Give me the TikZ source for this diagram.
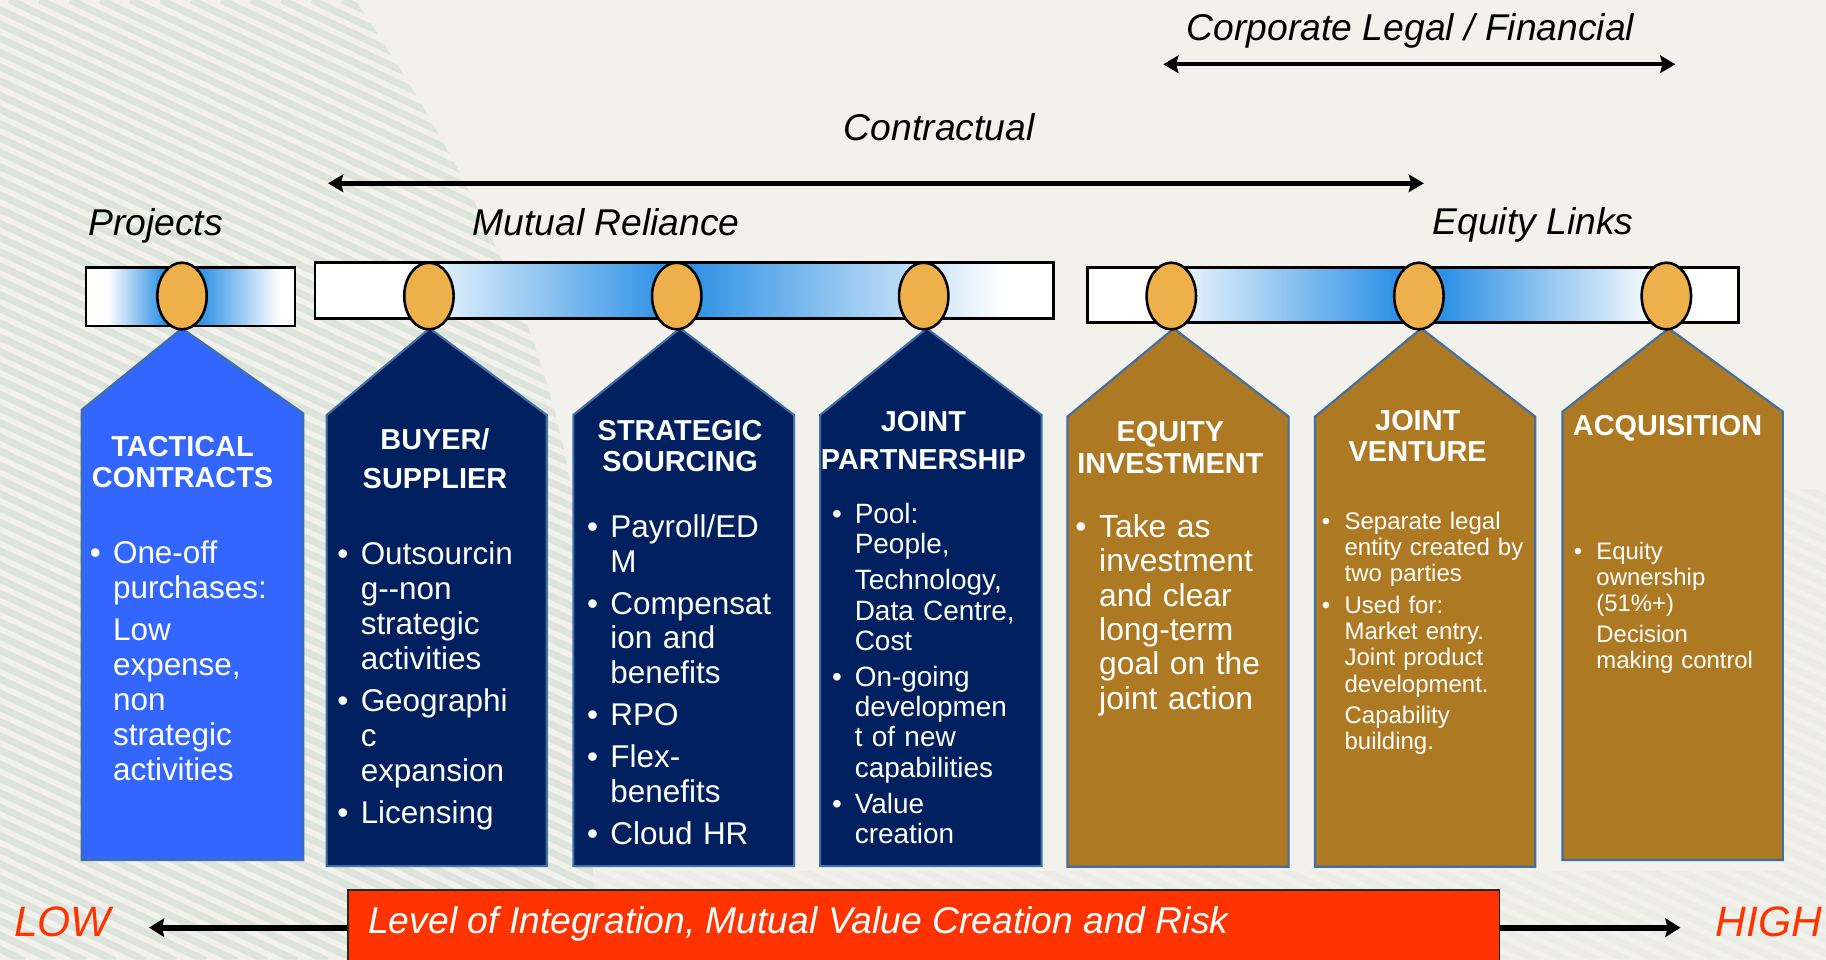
\documentclass[tikz,border=0pt]{standalone}
\usepackage{fontspec}
\setmainfont{Liberation Sans}
\usetikzlibrary{arrows.meta,shapes.geometric}

\definecolor{bgbeige}{HTML}{F3F1EC}
\definecolor{stripecol}{HTML}{DDE4DC}
\definecolor{tagblue}{HTML}{3366FF}
\definecolor{tagnavy}{HTML}{002060}
\definecolor{tagbrown}{HTML}{AE7923}
\definecolor{tagedge}{HTML}{3F6FA3}
\definecolor{knobcol}{HTML}{EEB04A}
\definecolor{barblue}{HTML}{2E91E5}
\definecolor{riskred}{HTML}{FF3300}

% bullet lists with a hanging indent
\newlength{\bulind}\setlength{\bulind}{20pt}
\newlength{\bulgap}\setlength{\bulgap}{6pt}
\newcommand{\firstbul}{\hangindent=\bulind\hangafter=1\relax\makebox[\bulind][l]{\textbullet}}
\newcommand{\nextbul}{\par\vspace{\bulgap}\noindent\firstbul}
\newcommand{\contpar}{\par\vspace{\bulgap}\noindent\hangindent=\bulind\hangafter=0\relax}

% horizontal bar: white ends, blue band between #6 and #7
\newcommand{\gradbar}[8]{%
  \fill[white] (#1,#3) rectangle (#2,#4);
  \shade[left color=white,right color=barblue] (#5,#3) rectangle (#6+0.5,#4);
  \fill[barblue] (#6,#3) rectangle (#7,#4);
  \shade[left color=barblue,right color=white] (#7-0.5,#3) rectangle (#8,#4);
  \draw[barframe] (#1,#3) rectangle (#2,#4);
}
% hanging tag: left, right, apex x, left shoulder, right shoulder, bottom, fill
\newcommand{\tagshape}[7]{%
  \filldraw[tagframe, fill=#7] (#1,#6) -- (#1,#4) -- (#3,282) -- (#2,#5) -- (#2,#6) -- cycle;
}

\tikzset{
  stripe/.style={stripecol, line width=6pt},
  barframe/.style={draw=black, line width=2.4pt},
  tagframe/.style={draw=tagedge, line width=1.8pt, line join=miter},
  knob/.style={ellipse, draw=black, line width=2.2pt, fill=knobcol,
    minimum width=42.4pt, minimum height=57.2pt, inner sep=0pt},
  toplabel/.style={font=\itshape\fontsize{32}{38}\selectfont, inner sep=0pt, anchor=base west},
  twoway/.style={line width=3.8pt,
    {Stealth[length=13pt,width=15pt,inset=2pt]}-{Stealth[length=13pt,width=15pt,inset=2pt]}},
  oneway/.style={line width=5pt, -{Stealth[length=13pt,width=16pt,inset=2pt]}},
  tagtitle/.style={text=white, font=\bfseries\fontsize{24.8}{27}\selectfont,
    text width=210pt, align=center, inner sep=0pt, anchor=base},
  tagbody/.style={text=white, inner sep=0pt, anchor=base west, text width=190pt},
  endlabel/.style={text=riskred, font=\itshape\fontsize{36.5}{40}\selectfont, inner sep=0pt, anchor=base west},
  riskbox/.style={fill=riskred, draw=black!85, line width=1.4pt, inner sep=0pt, anchor=north west},
}

\begin{document}
\begin{tikzpicture}[x=1pt,y=-1pt]
\useasboundingbox (0,0) rectangle (1568,824);

% background with diagonal stripes
\fill[bgbeige] (0,0) rectangle (1568,824);
\begin{scope}
  \clip (0,0) -- (305,0) .. controls (420,170) and (490,330) .. (500,500) -- (512,824) -- (0,824) -- cycle;
  \foreach \s in {-1760,-1734,...,720} \draw[stripe] (\s,0) -- ++(1755,825);
\end{scope}
\begin{scope}[opacity=0.35]
  \clip (500,748) rectangle (1568,824) (1532,420) rectangle (1568,824);
  \foreach \s in {-1760,-1734,...,1600} \draw[stripe] (\s,0) -- ++(1755,825);
\end{scope}

% headings and range arrows
\node[toplabel] (corp) at (1019,34.4) {Corporate Legal / Financial};
\coordinate (corpL) at (998.9,55.2);
\coordinate (corpR) at (1438.6,55.2);
\draw[twoway] (corpL) -- (corpR);

\node[toplabel] (contr) at (724.5,120.8) {Contractual};
\coordinate (contrL) at (281.7,157.4);
\coordinate (contrR) at (1222.7,157.4);
\draw[twoway] (contrL) -- (contrR);

\node[toplabel] (proj) at (75.5,201.8) {Projects};
\node[toplabel] (mutual) at (405.6,201.8) {Mutual Reliance};
\node[toplabel] (eqlinks) at (1230,201) {Equity Links};

% bars
\gradbar{73.9}{253.3}{229.6}{280}{92}{140}{172}{240}
\gradbar{270.5}{904.5}{225.3}{273.4}{345}{572}{592}{862}
\gradbar{933.5}{1492.6}{229.6}{276.8}{995}{1198}{1240}{1425}

% tags
\tagshape{70.1}{260.5}{156.3}{352}{355}{738.5}{tagblue}
\tagshape{280.5}{469.5}{369}{356.4}{356.4}{743.7}{tagnavy}
\tagshape{492.3}{681.9}{584}{356.4}{356.4}{743.7}{tagnavy}
\tagshape{704.2}{894.5}{795.8}{356.4}{356.4}{743.7}{tagnavy}
\tagshape{916.6}{1106.6}{1008}{357.8}{357.8}{744.3}{tagbrown}
\tagshape{1129.2}{1318.3}{1220.5}{357.8}{357.8}{744.3}{tagbrown}
\tagshape{1341.7}{1530.9}{1433}{353.5}{353.5}{738.5}{tagbrown}

% knobs
\node[knob] (k1) at (156.3,254.2) {};
\node[knob] (k2) at (368.3,254.2) {};
\node[knob] (k3) at (581.1,254.2) {};
\node[knob] (k4) at (793.2,254.2) {};
\node[knob] (k5) at (1005.8,254.2) {};
\node[knob] (k6) at (1218.4,254.2) {};
\node[knob] (k7) at (1430.9,254.2) {};

% tag titles
\node[tagtitle] (t1) at (156.8,392.2) {TACTICAL\\[-0.7pt]CONTRACTS};
\node[tagtitle] (t2) at (373.5,386.4) {BUYER/\\[6pt]SUPPLIER};
\node[tagtitle] (t3) at (584,377.9) {STRATEGIC\\SOURCING};
\node[tagtitle] (t4) at (792.9,370.1) {JOINT\\[5.9pt]PARTNERSHIP};
\node[tagtitle] (t5) at (1005,379.3) {EQUITY\\INVESTMENT};
\node[tagtitle] (t6) at (1217.4,369.3) {JOINT\\VENTURE};
\node[tagtitle] (t7) at (1432,373.6) {ACQUISITION};

% tag bodies
\node[tagbody, font={\fontsize{27}{30}\selectfont\setlength{\bulind}{20pt}\setlength{\bulgap}{6pt}}] (b1) at (76.9,484)
  {\firstbul One-off\newline purchases:\contpar Low\newline expense,\newline non\newline strategic\newline activities\par};
\node[tagbody, font={\fontsize{27}{30}\selectfont\setlength{\bulind}{20pt}\setlength{\bulgap}{6pt}}] (b2) at (289.6,485)
  {\firstbul Outsourcin\newline g-{}-non\newline strategic\newline activities\nextbul Geographi\newline c\newline expansion\nextbul Licensing\par};
\node[tagbody, font={\fontsize{27}{29.8}\selectfont\setlength{\bulind}{20pt}\setlength{\bulgap}{6.3pt}}] (b3) at (504,461.4)
  {\firstbul Payroll/ED\newline M\nextbul Compensat\newline ion and\newline benefits\nextbul RPO\nextbul Flex-\newline benefits\nextbul Cloud HR\par};
\node[tagbody, font={\fontsize{24}{26}\selectfont\setlength{\bulind}{19.5pt}\setlength{\bulgap}{5pt}}] (b4) at (714.3,449.4)
  {\firstbul Pool:\newline People,\contpar Technology,\newline Data Centre,\newline Cost\nextbul On-going\newline developmen\newline t of new\newline capabilities\nextbul Value\newline creation\par};
\node[tagbody, font={\fontsize{27.3}{29.5}\selectfont\setlength{\bulind}{20.5pt}\setlength{\bulgap}{6pt}}] (b5) at (923.2,461.4)
  {\firstbul Take as\newline investment\newline and clear\newline long-term\newline goal on the\newline joint action\par};
\node[tagbody, font={\fontsize{20.6}{22.6}\selectfont\setlength{\bulind}{19.5pt}\setlength{\bulgap}{4.2pt}}] (b6) at (1134.9,454.5)
  {\firstbul Separate legal\newline entity created by\newline two parties\nextbul Used for:\newline Market entry.\newline Joint product\newline development.\contpar Capability\newline building.\par};
\node[tagbody, font={\fontsize{20.5}{22.6}\selectfont\setlength{\bulind}{19.5pt}\setlength{\bulgap}{3.2pt}}] (b7) at (1351.2,480.3)
  {\firstbul Equity\newline ownership\newline (51\%+)\contpar Decision\newline making control\par};

% integration scale
\node[riskbox, minimum width=989pt, minimum height=64pt] (risk) at (298,763.5) {};
\node[text=white, font=\itshape\fontsize{32}{38}\selectfont, inner sep=0pt, anchor=base west] (risktext) at (316,802)
  {Level of Integration, Mutual Value Creation and Risk};
\coordinate (lowtip) at (128,796.6);
\coordinate (hightip) at (1443,796.6);
\draw[oneway] (risk.west |- lowtip) -- (lowtip);
\draw[oneway] (risk.east |- hightip) -- (hightip);
\node[endlabel] (low) at (12,803.8) {LOW};
\node[endlabel] (high) at (1473,803.8) {HIGH};
\end{tikzpicture}
\end{document}
